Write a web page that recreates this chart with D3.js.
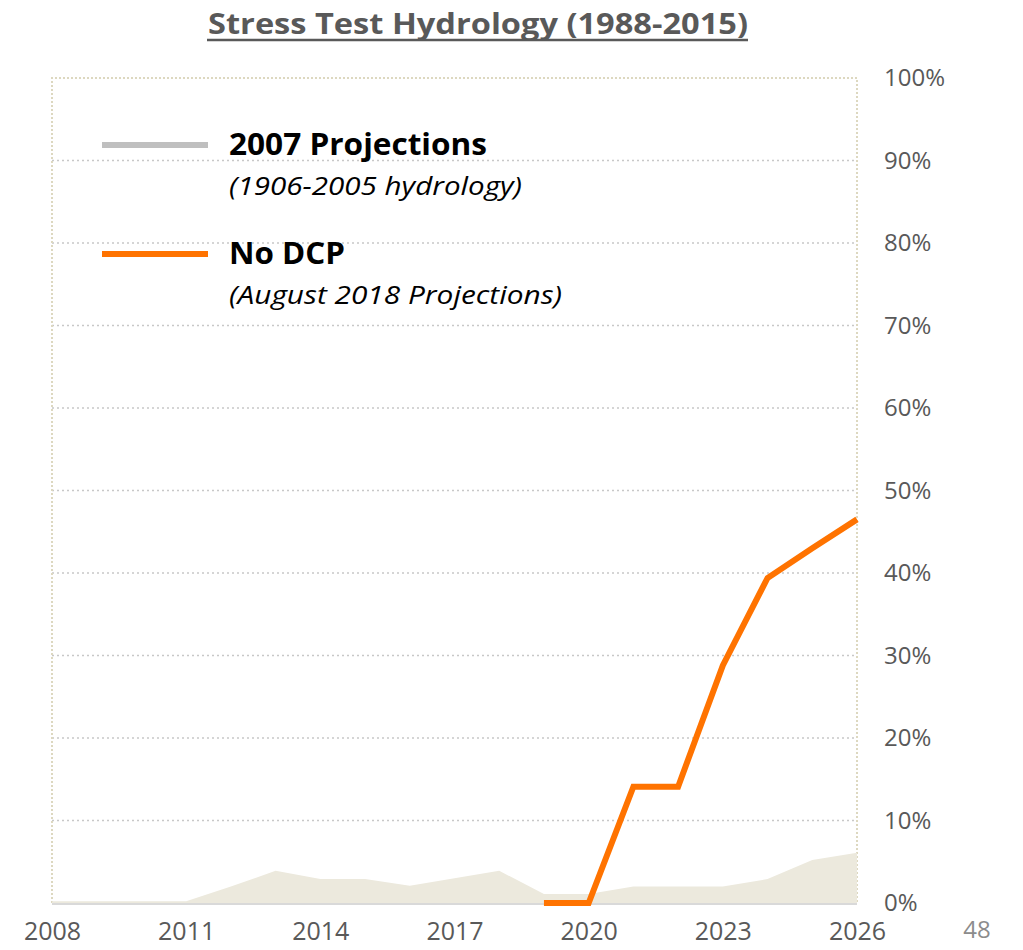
<!DOCTYPE html>
<html>
<head>
<meta charset="utf-8">
<script src="https://cdn.jsdelivr.net/npm/d3@7"></script>
<style>
  body { margin: 0; background: #ffffff; }
  svg { display: block; font-family: 'Open Sans', sans-serif; }
</style>
</head>
<body>
<svg id="chart"></svg>
<script>
const years = d3.range(2008, 2027);
// 2007 Projections (1906-2005 hydrology), percent
const projections2007 = [0.2, 0.2, 0.2, 0.2, 2.0, 3.9, 2.9, 2.9, 2.1, 3.0, 3.9, 1.1, 1.1, 2.0, 2.0, 2.0, 2.9, 5.2, 6.1];
// No DCP (August 2018 Projections), percent, starts 2019
const noDcpYears = [2019, 2020, 2021, 2022, 2023, 2024, 2025, 2026];
const noDcp = [0, 0, 14.1, 14.1, 28.8, 39.4, 43.0, 46.5];
const xTicks = [2008, 2011, 2014, 2017, 2020, 2023, 2026];
const yTicks = [0, 10, 20, 30, 40, 50, 60, 70, 80, 90, 100];

const width = 1023;
const height = 950;
const margin = { top: 78, right: 166, bottom: 47, left: 52 };

const svg = d3.select('#chart')
  .attr('width', width)
  .attr('height', height);

const x = d3.scaleLinear()
  .domain([2008, 2026])
  .range([margin.left, width - margin.right]);

const y = d3.scaleLinear()
  .domain([0, 100])
  .range([height - margin.bottom, margin.top]);

// gridlines
svg.append('g')
  .selectAll('line')
  .data(yTicks.filter(d => d > 0 && d < 100))
  .enter().append('line')
  .attr('x1', x(2008))
  .attr('x2', x(2026))
  .attr('y1', d => y(d))
  .attr('y2', d => y(d))
  .attr('stroke', '#c8c8c8')
  .attr('stroke-width', 1.5)
  .attr('stroke-dasharray', '2,3');

// plot border (top, left, right) dotted tan
svg.append('path')
  .attr('d', `M${x(2008)},${y(0)}V${y(100)}H${x(2026)}V${y(0)}`)
  .attr('fill', 'none')
  .attr('stroke', '#ddd8c0')
  .attr('stroke-width', 2)
  .attr('stroke-dasharray', '2,2');

// gray area
const area = d3.area()
  .x((d, i) => x(years[i]))
  .y0(y(0))
  .y1(d => y(d));

svg.append('path')
  .datum(projections2007)
  .attr('fill', '#ece9dd')
  .attr('d', area);

// base axis line
svg.append('line')
  .attr('x1', x(2008))
  .attr('x2', x(2026))
  .attr('y1', y(0) + 1)
  .attr('y2', y(0) + 1)
  .attr('stroke', '#d9d9d9')
  .attr('stroke-width', 2);

// orange line
const line = d3.line()
  .x((d, i) => x(noDcpYears[i]))
  .y(d => y(d));

svg.append('path')
  .datum(noDcp)
  .attr('fill', 'none')
  .attr('stroke', '#ff7300')
  .attr('stroke-width', 6)
  .attr('stroke-linejoin', 'miter')
  .attr('d', line);

// y axis on right
const yAxis = d3.axisRight(y)
  .tickValues(yTicks)
  .tickFormat(d => d + '%')
  .tickSize(0)
  .tickPadding(27);

svg.append('g')
  .attr('transform', `translate(${x(2026)},0)`)
  .call(yAxis)
  .call(g => g.select('.domain').remove())
  .selectAll('text')
  .attr('fill', '#595959')
  .attr('font-family', "'Open Sans', sans-serif")
  .attr('font-size', 24)
  .attr('dy', '0.32em');

// x axis
const xAxis = d3.axisBottom(x)
  .tickValues(xTicks)
  .tickFormat(d3.format('d'))
  .tickSize(0)
  .tickPadding(19);

svg.append('g')
  .attr('transform', `translate(0,${y(0)})`)
  .call(xAxis)
  .call(g => g.select('.domain').remove())
  .selectAll('text')
  .attr('fill', '#595959')
  .attr('font-family', "'Open Sans', sans-serif")
  .attr('font-size', 25);

// title
svg.append('text')
  .attr('x', 478)
  .attr('y', 34)
  .attr('text-anchor', 'middle')
  .attr('font-weight', 'bold')
  .attr('font-size', 28)
  .attr('fill', '#595959')
  .attr('textLength', 540)
  .attr('lengthAdjust', 'spacingAndGlyphs')
  .text('Stress Test Hydrology (1988-2015)');

svg.append('line')
  .attr('x1', 207)
  .attr('x2', 748)
  .attr('y1', 40)
  .attr('y2', 40)
  .attr('stroke', '#595959')
  .attr('stroke-width', 2.5);

// legend
const legend = [
  { label: '2007 Projections', sub: '(1906-2005 hydrology)', color: '#bfbfbf', ly: 145, w1: 258, w2: 293 },
  { label: 'No DCP', sub: '(August 2018 Projections)', color: '#ff7300', ly: 254, w1: 116, w2: 333 }
];

const lg = svg.append('g');
legend.forEach(d => {
  lg.append('line')
    .attr('x1', 102).attr('x2', 208)
    .attr('y1', d.ly).attr('y2', d.ly)
    .attr('stroke', d.color)
    .attr('stroke-width', 6);
  lg.append('text')
    .attr('x', 229)
    .attr('y', d.ly + 10)
    .attr('font-weight', 'bold')
    .attr('font-size', 31)
    .attr('fill', '#000')
    .attr('textLength', d.w1)
    .attr('lengthAdjust', 'spacingAndGlyphs')
    .text(d.label);
  lg.append('text')
    .attr('x', 229)
    .attr('y', d.ly + 50)
    .attr('font-style', 'italic')
    .attr('font-size', 25)
    .attr('fill', '#000')
    .attr('textLength', d.w2)
    .attr('lengthAdjust', 'spacingAndGlyphs')
    .text(d.sub);
});

// page number
svg.append('text')
  .attr('x', 977)
  .attr('y', 938)
  .attr('text-anchor', 'middle')
  .attr('font-size', 24)
  .attr('fill', '#8c8c8c')
  .text('48');
</script>
</body>
</html>
